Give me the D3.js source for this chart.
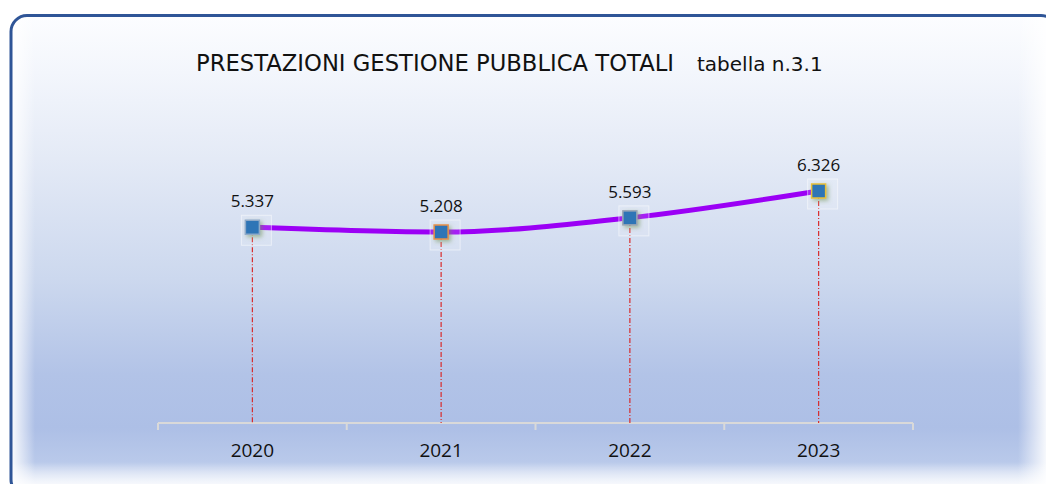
<!DOCTYPE html>
<html><head><meta charset="utf-8">
<script src="https://cdn.jsdelivr.net/npm/d3@7"></script>
<style>html,body{margin:0;padding:0;background:#fff;overflow:hidden}</style>
</head><body>
<svg id="c" width="1046" height="484"></svg>
<script>
const years = ["2020", "2021", "2022", "2023"];
const values = [5337, 5208, 5593, 6326];
const valueLabels = ["5.337", "5.208", "5.593", "6.326"];
const markerStrokes = ["#8faac8", "#e8904a", "#9aa6b4", "#e8c03a"];
const titleMain = "PRESTAZIONI GESTIONE PUBBLICA TOTALI";
const titleSub = "tabella n.3.1";

const svg = d3.select("#c");
const defs = svg.append("defs");

const bg = defs.append("linearGradient").attr("id","bg").attr("x1",0).attr("y1",0).attr("x2",0).attr("y2",1);
[[0,"#fcfdff"],[0.12,"#f3f6fc"],[0.3,"#e4eaf6"],[0.55,"#ccd8ee"],[0.75,"#b2c3e7"],[0.86,"#adbfe6"],[0.93,"#b9c9ea"],[1,"#f4f7fc"]]
  .forEach(([o,c]) => bg.append("stop").attr("offset",o).attr("stop-color",c));

const lf = defs.append("linearGradient").attr("id","lf").attr("x1",0).attr("y1",0).attr("x2",1).attr("y2",0);
lf.append("stop").attr("offset",0).attr("stop-color","#fff").attr("stop-opacity",0.95);
lf.append("stop").attr("offset",1).attr("stop-color","#fff").attr("stop-opacity",0);
const rf = defs.append("linearGradient").attr("id","rf").attr("x1",1).attr("y1",0).attr("x2",0).attr("y2",0);
rf.append("stop").attr("offset",0).attr("stop-color","#fff").attr("stop-opacity",0.95);
rf.append("stop").attr("offset",1).attr("stop-color","#fff").attr("stop-opacity",0);
const bf = defs.append("linearGradient").attr("id","bf").attr("x1",0).attr("y1",1).attr("x2",0).attr("y2",0);
bf.append("stop").attr("offset",0).attr("stop-color","#fff").attr("stop-opacity",1);
bf.append("stop").attr("offset",1).attr("stop-color","#fff").attr("stop-opacity",0);

const sh = defs.append("filter").attr("id","sh").attr("x","-50%").attr("y","-50%").attr("width","200%").attr("height","200%");
sh.append("feGaussianBlur").attr("in","SourceAlpha").attr("stdDeviation",2.2).attr("result","b");
sh.append("feOffset").attr("in","b").attr("dx",2).attr("dy",2).attr("result","o");
sh.append("feFlood").attr("flood-color","#6a8f4a").attr("flood-opacity",0.55);
sh.append("feComposite").attr("in2","o").attr("operator","in").attr("result","s");
const m = sh.append("feMerge");
m.append("feMergeNode").attr("in","s");
m.append("feMergeNode").attr("in","SourceGraphic");

const clip = defs.append("clipPath").attr("id","cl");
clip.append("rect").attr("x",11).attr("y",15).attr("width",1046).attr("height",480).attr("rx",16);

// background panel
const panel = svg.append("g").attr("clip-path","url(#cl)");
panel.append("rect").attr("x",11).attr("y",15).attr("width",1046).attr("height",480).attr("fill","url(#bg)");
panel.append("rect").attr("x",11).attr("y",15).attr("width",24).attr("height",480).attr("fill","url(#lf)");
panel.append("rect").attr("x",1018).attr("y",15).attr("width",30).attr("height",480).attr("fill","url(#rf)");
panel.append("rect").attr("x",11).attr("y",463).attr("width",1046).attr("height",30).attr("fill","url(#bf)");
svg.append("rect").attr("x",11).attr("y",15.5).attr("width",1046).attr("height",480).attr("rx",16)
  .attr("fill","none").attr("stroke","#2f5597").attr("stroke-width",3);

// scales
const x = d3.scaleBand().domain(years).range([158, 913]).padding(0);
const y = d3.scaleLinear().domain([0, 8000]).range([423, 129.6]);
const cx = d => x(d) + x.bandwidth()/2;

// axis
const axis = svg.append("g").attr("transform","translate(0,423)")
  .call(d3.axisBottom(x).tickSize(0).tickFormat(""));
axis.select(".domain").remove();
axis.append("line").attr("x1",158).attr("x2",913).attr("y1",0).attr("y2",0).attr("stroke","#d9d9d9").attr("stroke-width",2);
const bounds = years.map(d => x(d)).concat([913]);
axis.selectAll(".tk").data(bounds).join("line").attr("class","tk")
  .attr("x1",d=>d).attr("x2",d=>d).attr("y1",0).attr("y2",7).attr("stroke","#d9d9d9").attr("stroke-width",2);
axis.selectAll(".yl").data(years).join("text").attr("class","yl")
  .attr("x",d=>cx(d)).attr("y",34).attr("text-anchor","middle")
  .attr("font-family","'Open Sans', sans-serif").attr("font-size",19).attr("fill","#111")
  .text(d=>d);

// drop lines
svg.selectAll(".drop").data(years).join("line").attr("class","drop")
  .attr("x1",d=>cx(d)).attr("x2",d=>cx(d))
  .attr("y1",(d,i)=>y(values[i])).attr("y2",423)
  .attr("stroke","#d92b2b").attr("stroke-width",1.2).attr("stroke-dasharray","5,2,1,2");

// line
const line = d3.line().x((d,i)=>cx(years[i])).y(d=>y(d)).curve(d3.curveMonotoneX);
svg.append("path").datum(values).attr("d",line).attr("fill","none")
  .attr("stroke","#9b00f5").attr("stroke-width",5).attr("stroke-linecap","round");

// faint label boxes behind markers
svg.selectAll(".mbox").data(values).join("rect").attr("class","mbox")
  .attr("x",(d,i)=>cx(years[i])-11).attr("y",d=>y(d)-12).attr("width",30).attr("height",30)
  .attr("fill","#ffffff").attr("fill-opacity",0.12).attr("stroke","#ffffff").attr("stroke-opacity",0.5);

// markers
svg.selectAll(".mk").data(values).join("rect").attr("class","mk")
  .attr("x",(d,i)=>cx(years[i])-7).attr("y",d=>y(d)-7).attr("width",14).attr("height",14)
  .attr("fill","#2e75b6").attr("stroke",(d,i)=>markerStrokes[i]).attr("stroke-width",1.5)
  .attr("filter","url(#sh)");

// value labels
svg.selectAll(".vl").data(values).join("text").attr("class","vl")
  .attr("x",(d,i)=>cx(years[i])).attr("y",d=>y(d)-20).attr("text-anchor","middle")
  .attr("font-family","'Open Sans', sans-serif").attr("font-size",17).attr("fill","#111")
  .text((d,i)=>valueLabels[i]);

// title
svg.append("text").attr("x",196).attr("y",71).attr("font-family","'DejaVu Sans', sans-serif")
  .attr("font-size",22.7).attr("fill","#111").text(titleMain);
svg.append("text").attr("x",697).attr("y",71).attr("font-family","'DejaVu Sans', sans-serif")
  .attr("font-size",20).attr("fill","#111").text(titleSub);
</script>
</body></html>
